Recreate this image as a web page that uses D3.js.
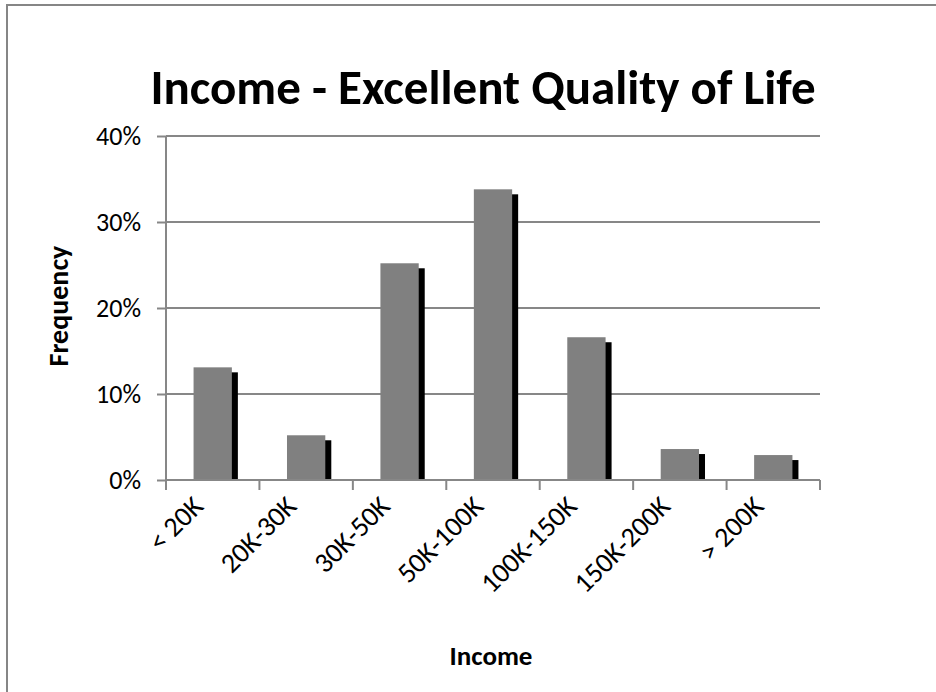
<!DOCTYPE html>
<html>
<head>
<meta charset="utf-8">
<script src="https://cdn.jsdelivr.net/npm/d3@7/dist/d3.min.js"></script>
<style>
  body { margin: 0; background: #fff; }
  text { font-family: Calibri, Carlito, Lato, sans-serif; fill: #000; }
</style>
</head>
<body>
<div id="chart-area"></div>
<script>

var categories = ["< 20K", "20K-30K", "30K-50K", "50K-100K", "100K-150K", "150K-200K", "> 200K"];
var frequency = [0.131, 0.052, 0.252, 0.338, 0.166, 0.036, 0.029];
var yTicks = [0, 0.1, 0.2, 0.3, 0.4];

var margin = {top: 136, right: 116, bottom: 212, left: 166},
    width = 936 - margin.left - margin.right,
    height = 692 - margin.top - margin.bottom;

var svg = d3.select("#chart-area")
    .append("svg")
        .attr("width", 936)
        .attr("height", 692);

// outer chart border (runs off the right/bottom edge like the source)
svg.append("rect")
    .attr("x", 7).attr("y", 5)
    .attr("width", 960).attr("height", 720)
    .attr("fill", "#fff")
    .attr("stroke", "#868686")
    .attr("stroke-width", 2);

svg.append("text")
    .attr("x", 483).attr("y", 104)
    .attr("text-anchor", "middle")
    .attr("font-size", 49)
    .attr("font-weight", "bold")
    .text("Income - Excellent Quality of Life");

var g = svg.append("g")
        .attr("transform", "translate(" + margin.left + "," + margin.top + ")");

var xScale = d3.scaleBand().domain(categories).range([0, width]).padding(0);
var yScale = d3.scaleLinear().domain([0, 0.4]).range([height, 0]);

// gridlines
g.append("g")
    .selectAll("line")
    .data(yTicks.slice(1))
    .enter()
    .append("line")
    .attr("x1", 0).attr("x2", width)
    .attr("y1", function(d) { return yScale(d); })
    .attr("y2", function(d) { return yScale(d); })
    .attr("stroke", "#878787")
    .attr("stroke-width", 2);

var barW = xScale.bandwidth() * 0.41;

// shadow first, then the bar
var bars = g.selectAll(".bar")
    .data(frequency)
    .enter()
    .append("g")
    .attr("class", "bar");

bars.append("rect")
    .attr("x", function(d, i) { return xScale(categories[i]) + (xScale.bandwidth() - barW) / 2 + 6; })
    .attr("y", function(d) { return yScale(d) + 5; })
    .attr("width", barW)
    .attr("height", function(d) { return height - yScale(d) - 5; })
    .attr("fill", "#000");

bars.append("rect")
    .attr("x", function(d, i) { return xScale(categories[i]) + (xScale.bandwidth() - barW) / 2; })
    .attr("y", function(d) { return yScale(d); })
    .attr("width", barW)
    .attr("height", function(d) { return height - yScale(d); })
    .attr("fill", "#808080");

// y axis
var yAxis = d3.axisLeft(yScale)
    .tickValues(yTicks)
    .tickSize(9)
    .tickPadding(16)
    .tickFormat(d3.format(".0%"));

var yAxisEl = g.append("g").call(yAxis);
yAxisEl.select(".domain").attr("stroke", "#878787").attr("stroke-width", 2).attr("d", "M0," + height + "V0");
yAxisEl.selectAll(".tick line").attr("stroke", "#878787").attr("stroke-width", 2);
yAxisEl.selectAll(".tick text")
    .attr("font-size", 26)
    .attr("font-family", "Calibri, Carlito, Lato, sans-serif");

// x axis: ticks sit between categories
var xAxisEl = g.append("g")
        .attr("transform", "translate(0," + height + ")");

xAxisEl.append("line")
    .attr("x1", 0).attr("x2", width)
    .attr("stroke", "#878787").attr("stroke-width", 2);

xAxisEl.selectAll(".xtick")
    .data(d3.range(categories.length + 1))
    .enter()
    .append("line")
    .attr("x1", function(i) { return i * xScale.step(); })
    .attr("x2", function(i) { return i * xScale.step(); })
    .attr("y1", 0).attr("y2", 10)
    .attr("stroke", "#878787").attr("stroke-width", 2);

xAxisEl.selectAll(".xlabel")
    .data(categories)
    .enter()
    .append("text")
    .attr("text-anchor", "end")
    .attr("font-size", 28)
    .attr("transform", function(d) {
        return "translate(" + (xScale(d) + xScale.bandwidth() / 2 - 8) + ",28) rotate(-45)";
    })
    .text(function(d) { return d; });

// axis titles
svg.append("text")
    .attr("x", 491).attr("y", 665)
    .attr("text-anchor", "middle")
    .attr("font-size", 27)
    .attr("font-weight", "bold")
    .text("Income");

svg.append("text")
    .attr("transform", "translate(68,306) rotate(-90)")
    .attr("text-anchor", "middle")
    .attr("font-size", 28)
    .attr("font-weight", "bold")
    .text("Frequency");

</script>
</body>
</html>
